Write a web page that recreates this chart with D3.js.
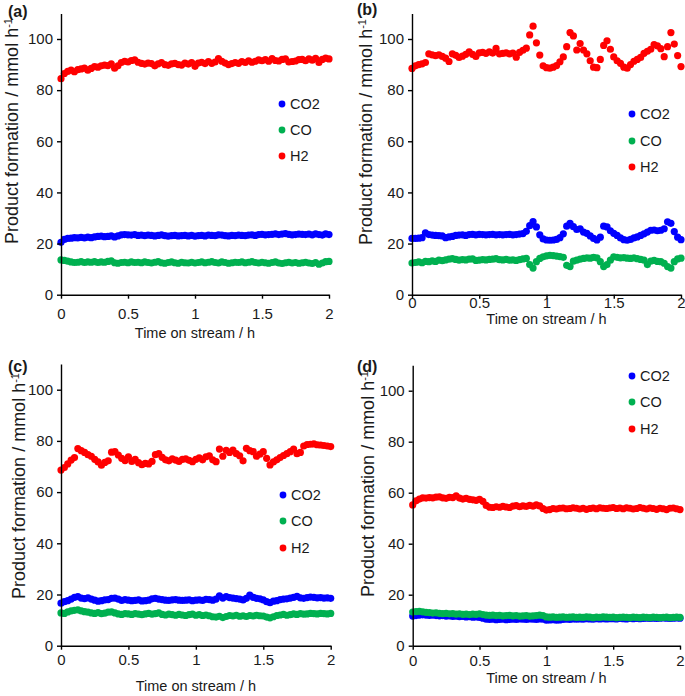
<!DOCTYPE html>
<html><head><meta charset="utf-8">
<script src="https://cdn.jsdelivr.net/npm/d3@7"></script>
<style>
body{margin:0;background:#fff;}
svg{display:block;font-family:"Liberation Sans",Arial,sans-serif;}
</style></head><body>
<svg id="chart" width="685" height="696"></svg>
<script>
// ---------- DATA ----------
const TIME_H = [
0,0.025,0.05,0.075,0.1,0.125,0.15,0.175,0.2,0.225,
0.25,0.275,0.3,0.325,0.35,0.375,0.4,0.425,0.45,0.475,
0.5,0.525,0.55,0.575,0.6,0.625,0.65,0.675,0.7,0.725,
0.75,0.775,0.8,0.825,0.85,0.875,0.9,0.925,0.95,0.975,
1,1.025,1.05,1.075,1.1,1.125,1.15,1.175,1.2,1.225,
1.25,1.275,1.3,1.325,1.35,1.375,1.4,1.425,1.45,1.475,
1.5,1.525,1.55,1.575,1.6,1.625,1.65,1.675,1.7,1.725,
1.75,1.775,1.8,1.825,1.85,1.875,1.9,1.925,1.95,1.975,
2];
const SERIES_NAMES = ["CO2","CO","H2"];
const PANEL_LABELS = ["(a)","(b)","(c)","(d)"];
const Y_TICKS = [0,20,40,60,80,100];
const X_TICKS = [0,0.5,1,1.5,2];
const X_TICK_LABELS = ["0","0.5","1","1.5","2"];
const X_TITLE = "Time on stream / h";
const Y_TITLE = "Product formation / mmol h";
const Y_TITLE_SUP = "-1";

const A_CO2 = [
20.5,21.6,22.0,22.1,22.3,22.2,22.4,22.2,22.5,22.3,
22.6,22.8,22.9,22.7,22.8,23.0,22.6,23.0,23.4,23.5,
23.4,23.3,23.5,23.2,23.3,23.1,23.3,23.2,23.0,23.2,
23.4,23.1,22.9,23.1,23.2,23.0,23.1,23.2,23.0,23.2,
22.9,23.1,23.2,23.0,23.3,23.2,23.1,23.4,23.3,23.1,
23.0,23.2,23.1,23.3,23.2,23.1,23.3,23.4,23.2,23.5,
23.6,23.4,23.5,23.6,23.8,23.5,23.7,23.9,23.6,23.4,
23.5,23.7,23.6,23.5,23.7,23.4,23.8,23.5,23.3,23.8,
23.5];
const A_CO = [
13.6,13.4,13.1,12.8,12.6,12.7,12.9,12.6,12.8,12.7,
12.9,12.6,12.8,12.7,13.0,13.2,12.5,12.3,12.6,12.7,
12.5,12.8,12.6,12.7,12.5,12.8,12.6,12.4,12.7,12.9,
12.5,12.3,12.6,12.8,12.5,12.3,12.7,12.5,12.4,12.7,
12.4,12.6,12.8,12.5,12.7,12.9,12.6,12.4,12.8,12.6,
12.3,12.5,12.7,12.6,12.8,12.5,12.7,12.9,12.6,12.4,
12.7,12.5,12.3,12.6,12.8,12.4,12.2,12.5,12.7,12.4,
12.6,12.3,12.5,12.7,12.4,12.2,12.6,11.9,12.4,12.9,
13.0];
const A_H2 = [
84.5,86.5,87.3,87.8,87.2,88.0,88.3,88.6,87.8,88.5,
89.2,89.0,89.5,89.8,89.6,90.3,88.6,89.5,90.8,91.3,
91.0,91.6,91.8,90.9,90.5,90.2,90.6,90.4,89.5,90.3,
90.8,90.0,89.7,90.3,90.5,90.0,89.8,90.6,90.2,90.8,
89.3,90.6,90.9,90.4,91.2,90.5,91.0,92.3,91.3,90.6,
90.0,90.4,90.8,90.5,91.2,90.8,91.5,90.9,91.3,91.8,
91.5,91.9,91.3,92.3,91.6,91.4,92.0,92.2,91.0,91.2,
91.4,91.9,92.0,91.5,92.2,91.7,92.4,90.8,92.0,92.5,
92.2];

const B_CO2 = [
22.0,22.0,22.1,22.3,24.2,23.5,23.3,23.2,23.1,23.0,
22.3,22.6,22.8,23.2,23.3,23.4,23.2,23.5,23.6,23.4,
23.6,23.5,23.4,23.5,23.6,23.4,23.5,23.4,23.5,23.6,
23.4,23.5,23.7,23.9,24.8,27.0,28.6,26.5,23.4,21.8,
21.4,21.3,21.4,21.6,22.3,23.8,26.8,27.9,26.6,25.5,
25.8,24.5,24.0,23.0,22.0,21.4,22.5,26.8,26.5,25.0,
24.0,23.2,22.2,21.5,21.3,21.6,22.2,22.6,23.2,23.8,
24.5,25.2,25.3,25.0,25.2,25.8,28.5,27.9,24.7,22.5,
21.5];
const B_CO = [
12.4,12.6,12.8,12.5,13.0,12.9,13.2,13.0,13.5,13.3,
13.6,13.9,14.1,13.8,13.5,13.7,13.6,13.9,14.0,13.4,
13.5,13.7,13.6,13.8,13.9,14.1,13.7,13.6,13.8,13.5,
13.6,13.4,13.7,14.0,14.2,11.8,10.4,12.9,14.2,14.8,
15.2,15.4,15.3,15.1,14.9,14.6,11.5,11.0,13.1,13.5,
13.9,14.2,14.4,14.3,14.6,14.4,12.9,11.0,11.8,13.5,
14.8,14.6,14.4,14.5,14.3,14.2,14.4,14.1,13.8,13.5,
11.8,13.1,13.4,13.0,12.9,12.3,11.0,10.4,12.9,14.0,
14.3];
const B_H2 = [
88.5,89.5,90.0,90.3,90.8,94.2,93.8,93.5,93.8,93.2,
92.5,91.2,94.2,93.6,92.8,93.3,94.0,95.0,94.0,93.2,
94.6,94.8,94.4,95.0,94.5,96.3,94.2,94.4,94.6,94.2,
94.5,92.9,94.8,95.6,96.4,101.6,105.0,98.5,93.7,89.5,
88.8,88.6,89.0,89.6,91.1,93.0,97.0,102.5,101.2,95.7,
98.2,95.7,94.2,91.5,89.0,88.8,92.0,97.5,99.3,96.0,
93.0,91.5,90.5,89.0,88.6,90.0,91.3,92.0,92.8,94.4,
95.2,96.0,97.8,97.3,96.2,93.1,97.0,102.5,98.0,93.5,
89.2];

const C_CO2 = [
16.6,17.2,17.6,18.2,18.9,19.2,18.6,18.4,18.7,18.2,
17.8,17.4,17.6,17.9,18.0,18.5,18.6,18.2,17.7,18.0,
17.8,17.6,17.7,17.9,17.5,17.6,17.8,18.3,18.5,18.2,
18.0,17.8,17.7,17.9,18.0,17.8,17.7,17.8,17.9,17.6,
17.8,17.9,17.7,18.1,18.0,17.8,18.2,19.5,18.6,19.2,
18.8,18.6,18.4,18.2,17.9,18.5,19.8,18.9,18.5,18.3,
17.9,17.2,16.8,17.4,17.6,18.0,18.2,18.3,18.6,18.9,
19.3,18.7,18.5,18.8,19.0,18.9,18.7,18.8,18.6,18.7,
18.5];
const C_CO = [
12.8,12.6,13.2,13.6,13.8,14.0,13.6,13.3,13.1,12.8,
12.6,12.9,12.5,12.7,13.1,13.2,12.8,12.4,12.2,12.5,
12.4,12.2,12.5,12.3,12.1,12.4,12.6,12.3,12.5,12.8,
12.2,12.0,12.3,12.1,11.9,12.2,12.0,11.8,12.1,12.3,
11.9,12.1,11.8,12.0,11.7,11.3,11.2,11.5,11.0,11.4,
11.8,11.6,11.9,11.5,11.7,11.4,11.8,11.6,11.9,11.7,
11.6,11.2,10.9,11.3,11.8,12.0,12.2,11.9,12.1,12.4,
12.2,12.5,12.3,12.4,12.6,12.5,12.4,12.6,12.5,12.4,
12.6];
const C_H2 = [
68.6,69.6,71.0,72.5,73.5,77.0,76.2,75.5,74.6,74.0,
72.8,71.8,70.5,71.6,72.2,75.6,75.8,74.5,73.2,72.3,
73.8,72.0,72.8,71.5,70.7,71.2,71.0,72.0,74.6,75.0,
73.6,72.6,72.2,73.0,72.5,72.0,72.8,73.0,72.4,71.9,
72.8,73.4,72.6,73.8,74.2,72.6,71.9,76.8,74.0,76.3,
75.5,76.4,75.0,74.2,72.2,77.1,76.2,75.8,74.0,74.8,
75.8,73.2,70.6,71.8,72.6,73.5,74.3,75.0,75.8,76.8,
75.0,75.5,78.0,78.6,78.7,78.8,78.5,78.4,78.2,78.0,
77.8];

const D_CO2 = [
11.6,11.8,12.0,12.1,12.0,11.9,12.0,11.8,11.7,11.8,
11.6,11.7,11.5,11.6,11.4,11.5,11.3,11.4,11.2,11.3,
11.1,10.8,10.4,10.3,10.4,10.2,10.3,10.4,10.2,10.3,
10.4,10.3,10.5,10.4,10.3,10.5,10.4,10.3,10.5,10.4,
10.0,10.1,10.2,10.0,10.1,10.3,10.4,10.3,10.5,10.4,
10.5,10.4,10.6,10.5,10.4,10.6,10.5,10.6,10.5,10.6,
10.6,10.5,10.7,10.6,10.5,10.7,10.6,10.7,10.6,10.7,
10.8,10.7,10.8,10.7,10.8,10.9,10.8,10.7,10.8,10.9,
10.8];
const D_CO = [
13.2,13.4,13.5,13.3,13.1,13.0,12.8,12.9,12.7,12.6,
12.7,12.5,12.6,12.4,12.5,12.3,12.4,12.2,12.4,12.3,
12.5,12.2,12.0,11.9,12.0,11.8,11.9,11.7,11.8,11.9,
11.7,11.8,11.6,11.7,11.8,11.6,11.7,11.8,12.0,11.8,
11.3,11.2,11.3,11.1,11.2,11.3,11.1,11.2,11.3,11.1,
11.2,11.1,11.3,11.2,11.0,11.2,11.1,11.3,11.2,11.1,
11.2,11.0,11.1,11.2,11.1,11.0,11.2,11.1,11.0,11.2,
11.1,11.0,11.2,11.1,11.0,11.1,11.2,11.0,11.1,11.2,
11.1];
const D_H2 = [
55.2,56.8,57.5,58.0,57.9,58.1,58.0,58.3,58.4,58.0,
57.8,58.2,58.1,58.8,57.9,57.5,57.8,57.4,57.2,57.0,
57.4,56.6,55.0,54.3,54.2,54.5,54.3,54.6,54.4,54.2,
54.7,54.9,54.5,54.8,54.6,55.0,54.7,55.2,54.8,53.8,
53.2,53.4,53.8,53.6,53.9,54.0,53.7,53.8,54.1,53.9,
53.6,53.9,53.5,53.8,54.0,53.7,54.1,53.9,53.8,54.0,
54.2,53.8,54.0,53.7,54.1,53.9,53.6,53.8,54.2,53.9,
53.6,54.0,53.8,53.5,53.9,53.7,53.4,53.9,54.0,53.7,
53.4];

const PANEL_DATA = [
  [A_CO2, A_CO, A_H2],
  [B_CO2, B_CO, B_H2],
  [C_CO2, C_CO, C_H2],
  [D_CO2, D_CO, D_H2]
];

// ---------- STYLE / LAYOUT ----------
const COLORS = ["#0000ff", "#00b050", "#ff0000"];
const TEXT_COLOR = "#1a1a1a";
const LAYOUT = [
  {x0:61,  x1:329,   y0:294.7, y100:39,    xpad:9.5, xTitleY:338, yTitleX:18,  yTitleY:131, lab:[8,17],   leg:{x:282,y:[104,130,156]}},
  {x0:412, x1:681,   y0:294.7, y100:39,    xpad:-1.5,xTitleY:323.5, yTitleX:372, yTitleY:132, lab:[357,15], leg:{x:632,y:[114,141,167]}},
  {x0:61,  x1:330.7, y0:645.7, y100:389.7, xpad:5,   xTitleY:691, yTitleX:25,  yTitleY:486, lab:[8,372],  leg:{x:283,y:[495,521,548]}},
  {x0:412.7,x1:680,  y0:645.7, y100:390.7, xpad:6,   xTitleY:683, yTitleX:374, yTitleY:484, lab:[357,372],leg:{x:632,y:[376,402,429]}}
];

const svg = d3.select("#chart");

LAYOUT.forEach((L, p) => {
  const g = svg.append("g");
  const x = d3.scaleLinear().domain([0, 2]).range([L.x0, L.x1]);
  const y = d3.scaleLinear().domain([0, 110]).range([L.y0, L.y0 - 1.1 * (L.y0 - L.y100)]);

  // series points
  PANEL_DATA[p].forEach((vals, s) => {
    g.append("g").selectAll("circle")
      .data(vals.map((v, i) => [TIME_H[i], v]))
      .join("circle")
      .attr("cx", d => x(d[0]))
      .attr("cy", d => y(d[1]))
      .attr("r", 3.6)
      .attr("fill", COLORS[s]);
  });

  // axes
  const ya = g.append("g").attr("transform", `translate(${L.x0},0)`)
    .call(d3.axisLeft(y).tickValues(Y_TICKS).tickSize(4).tickSizeOuter(0).tickPadding(4).tickFormat(d3.format("d")));
  const xa = g.append("g").attr("transform", `translate(0,${L.y0})`)
    .call(d3.axisBottom(x).tickValues(X_TICKS).tickSize(4).tickSizeOuter(0).tickPadding(L.xpad)
      .tickFormat((d, i) => X_TICK_LABELS[i]));
  [ya, xa].forEach(a => {
    a.select(".domain").attr("stroke", "#000").attr("stroke-width", 1.4);
    a.selectAll(".tick line").attr("stroke", "#000").attr("stroke-width", 1.4);
    a.selectAll(".tick text").attr("fill", TEXT_COLOR).attr("font-size", 15)
      .attr("font-family", '"Liberation Sans",Arial,sans-serif');
  });

  // axis titles
  g.append("text").attr("x", (L.x0 + L.x1) / 2).attr("y", L.xTitleY)
    .attr("text-anchor", "middle").attr("font-size", 14.5).attr("fill", TEXT_COLOR)
    .text(X_TITLE);
  const yt = g.append("text")
    .attr("transform", `translate(${L.yTitleX},${L.yTitleY}) rotate(-90)`)
    .attr("text-anchor", "middle").attr("font-size", 18).attr("fill", TEXT_COLOR);
  yt.append("tspan").text(Y_TITLE);
  yt.append("tspan").attr("dy", -6).attr("font-size", 11).text(Y_TITLE_SUP);

  // panel label
  g.append("text").attr("x", L.lab[0]).attr("y", L.lab[1])
    .attr("font-size", 16).attr("font-weight", "bold").attr("fill", TEXT_COLOR)
    .text(PANEL_LABELS[p]);

  // legend
  SERIES_NAMES.forEach((name, s) => {
    g.append("circle").attr("cx", L.leg.x).attr("cy", L.leg.y[s]).attr("r", 3.4).attr("fill", COLORS[s]);
    g.append("text").attr("x", L.leg.x + 8).attr("y", L.leg.y[s]).attr("dy", "0.36em")
      .attr("font-size", 14.5).attr("fill", TEXT_COLOR).text(name);
  });
});
</script>
</body></html>
